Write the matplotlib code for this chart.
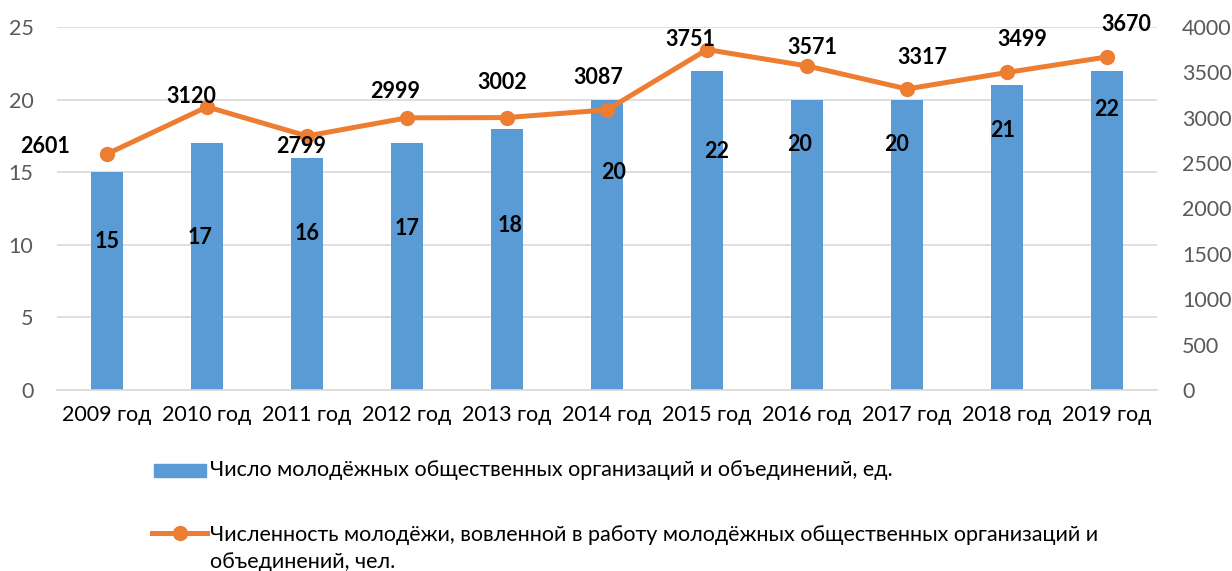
import matplotlib.pyplot as plt
from matplotlib.lines import Line2D
from matplotlib.patches import Rectangle

plt.rcParams['font.family'] = ['Lato', 'DejaVu Sans']

# data
years = ['2009 год', '2010 год', '2011 год', '2012 год', '2013 год', '2014 год',
         '2015 год', '2016 год', '2017 год', '2018 год', '2019 год']
orgs = [15, 17, 16, 17, 18, 20, 22, 20, 20, 21, 22]
youth = [2601, 3120, 2799, 2999, 3002, 3087, 3751, 3571, 3317, 3499, 3670]
label_orgs = 'Число молодёжных общественных организаций и объединений, ед.'
label_youth = ('Численность молодёжи, вовленной в работу молодёжных общественных организаций и\n'
               'объединений, чел.')

# label placement (style only)
bar_label_y = [10.2, 10.5, 10.8, 11.1, 11.3, 15.0, 16.4, 16.9, 16.9, 17.9, 19.3]
bar_label_dx = [0, -7, 0, 0, 3, 7, 10, -7, -10, -4, 0]
line_label_off = [(-62, 7), (-16, 10), (-6, -11), (-12, 26), (-5, 35), (-9, 32),
                  (-17, 10), (5, 18), (15, 31), (15, 33), (19, 32)]

blue = '#5B9BD5'
orange = '#ED7D31'
grey = '#595959'
fs = 15.5

fig = plt.figure(figsize=(12.32, 5.71), dpi=100)
ax = fig.add_axes([57 / 1232, 1 - 390 / 571, 1100 / 1232, 363 / 571])
ax2 = ax.twinx()

x = list(range(len(years)))
ax.bar(x, orgs, width=0.32, color=blue, zorder=2)
ax.set_ylim(0, 25)
ax.set_yticks(range(0, 26, 5))
ax.set_xlim(-0.5, len(years) - 0.5)
ax.set_xticks(x)
ax.set_xticklabels(years)
ax.grid(axis='y', color='#D9D9D9', linewidth=1.2, zorder=0)
ax.set_axisbelow(True)

ax2.plot(x, youth, color=orange, linewidth=3.6, marker='o', markersize=10, zorder=3)
ax2.set_ylim(0, 4000)
ax2.set_yticks(range(0, 4001, 500))

for a in (ax, ax2):
    for s in a.spines.values():
        s.set_visible(False)
    a.tick_params(length=0, labelsize=fs, labelcolor=grey)
ax.spines['bottom'].set_visible(True)
ax.spines['bottom'].set_color('#D9D9D9')
ax.spines['bottom'].set_linewidth(1.2)
ax.tick_params(axis='x', labelcolor='black', pad=11)
ax.tick_params(axis='y', pad=17)
ax2.tick_params(axis='y', pad=18)

for i, v in enumerate(orgs):
    ax.annotate(str(v), (i, bar_label_y[i]), xytext=(bar_label_dx[i] * 0.72, 0),
                textcoords='offset points', ha='center', va='center',
                fontsize=fs, fontweight='bold', color='black', zorder=5)

for i, v in enumerate(youth):
    dx, dy = line_label_off[i]
    ax2.annotate(str(v), (i, v), xytext=(dx * 0.72, dy * 0.72), textcoords='offset points',
                 ha='center', va='center', fontsize=fs, fontweight='bold', color='black')

# legend drawn in figure coords
W, H = 1232, 571
fig.patches.append(Rectangle((154 / W, 1 - 477 / H), 52 / W, 13 / H,
                             transform=fig.transFigure, color=blue))
fig.text(210 / W, 1 - 470 / H, label_orgs, fontsize=fs, va='center', ha='left')
fig.lines.append(Line2D([152 / W, 207 / W], [1 - 533 / H, 1 - 533 / H],
                        transform=fig.transFigure, color=orange, linewidth=3.6))
fig.lines.append(Line2D([180 / W], [1 - 533 / H], transform=fig.transFigure,
                        color=orange, marker='o', markersize=10))
fig.text(210 / W, 1 - 525 / H, label_youth, fontsize=fs, va='top', ha='left',
         linespacing=1.42)

fig.savefig('out.png', dpi=100)
